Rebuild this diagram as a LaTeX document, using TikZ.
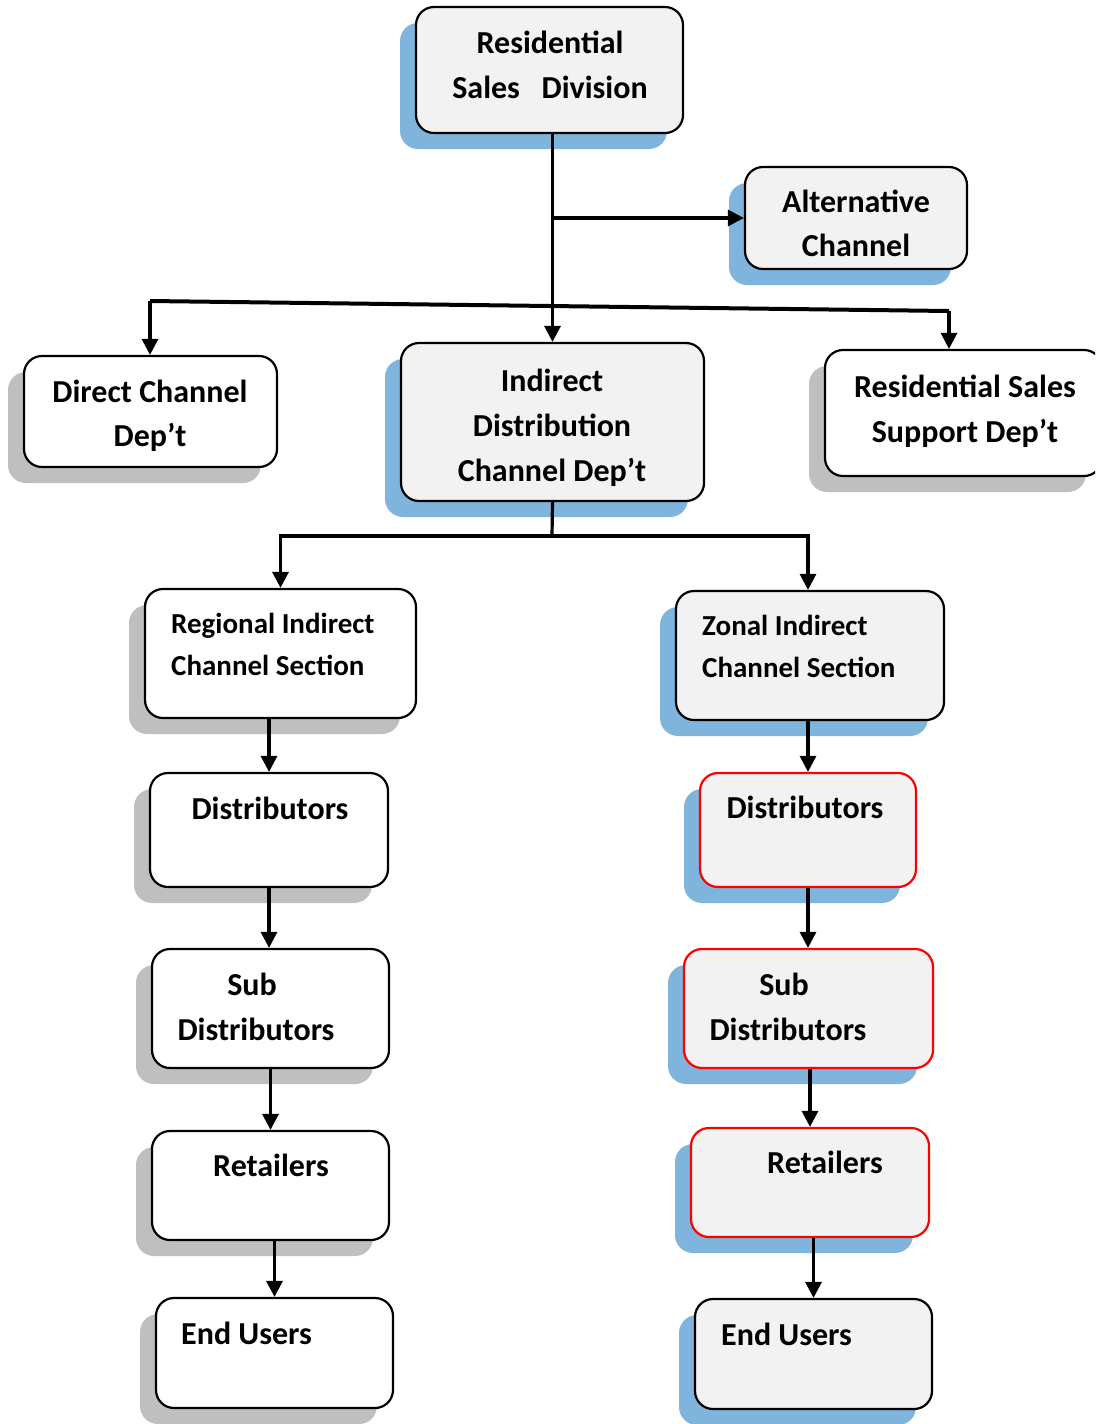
\documentclass[tikz,border=0pt]{standalone}
\usepackage{fontspec}
\setmainfont{Carlito}
\usetikzlibrary{arrows.meta,fit,calc}
\definecolor{shblue}{HTML}{7FB5DD}
\definecolor{shgray}{HTML}{BFBFBF}
\definecolor{boxgray}{HTML}{F2F2F2}
\definecolor{boxred}{HTML}{FF0000}
\newcommand\orgbox[8]{%
  \fill[#8, rounded corners=18pt] (#2-16,#3+16) rectangle (#4-16,#5+16);
  \node[fit={(#2,#3) (#4,#5)}, inner sep=0pt, draw=#7, fill=#6, line width=2.2pt, rounded corners=18pt] (#1) {};
}
\begin{document}
\begin{tikzpicture}[x=1pt,y=-1pt,
  lbl/.style={anchor=base, font=\fontsize{32}{45}\selectfont\bfseries, inner sep=0pt},
  lbll/.style={anchor=base west, font=\fontsize{29}{42}\selectfont\bfseries, inner sep=0pt},
  lblw/.style={anchor=base west, font=\fontsize{32}{45}\selectfont\bfseries, inner sep=0pt},
  conn/.style={line width=3.2pt},
  arr/.style={line width=3.2pt, -{Triangle[width=16pt,length=16pt]}}]
\clip (0,0) rectangle (1095,1424);
\fill[white] (0,0) rectangle (1095,1424);

% boxes
\orgbox{rsd}{416}{7}{683}{133}{boxgray}{black}{shblue}
\orgbox{alt}{745}{167}{967}{269}{boxgray}{black}{shblue}
\orgbox{dir}{24}{356}{277}{467}{white}{black}{shgray}
\orgbox{ind}{401}{343}{704}{501}{boxgray}{black}{shblue}
\orgbox{sup}{825}{350}{1102}{476}{white}{black}{shgray}
\orgbox{reg}{145}{589}{416}{718}{white}{black}{shgray}
\orgbox{zon}{676}{591}{944}{720}{boxgray}{black}{shblue}
\orgbox{dl}{150}{773}{388}{887}{white}{black}{shgray}
\orgbox{dr}{700}{773}{916}{887}{boxgray}{boxred}{shblue}
\orgbox{sl}{152}{949}{389}{1068}{white}{black}{shgray}
\orgbox{sr}{684}{949}{933}{1068}{boxgray}{boxred}{shblue}
\orgbox{rl}{152}{1131}{389}{1240}{white}{black}{shgray}
\orgbox{rr}{691}{1128}{929}{1237}{boxgray}{boxred}{shblue}
\orgbox{el}{156}{1298}{393}{1408}{white}{black}{shgray}
\orgbox{er}{695}{1299}{932}{1409}{boxgray}{black}{shblue}

% labels
\node[lbl] (t1) at (550,53) {Residential};
\node[lbl] (t2) at (550,98) {Sales\ \ \ Division};
\node[lbl] (t3) at (856,212) {Alternative};
\node[lbl] (t4) at (856,256) {Channel};
\node[lbl] (t5) at (150,402) {Direct Channel};
\node[lbl] (t6) at (150,446) {Dep’t};
\node[lbl] (t7) at (552,391) {Indirect};
\node[lbl] (t8) at (552,436) {Distribution};
\node[lbl] (t9) at (552,481) {Channel Dep’t};
\node[lbl] (t10) at (965,397) {Residential Sales};
\node[lbl] (t11) at (965,442) {Support Dep’t};
\node[lbll] (t12) at (171,633) {Regional Indirect};
\node[lbll] (t13) at (171,675) {Channel Section};
\node[lbll] (t14) at (702,635) {Zonal Indirect};
\node[lbll] (t15) at (702,677) {Channel Section};
\node[lbl] (t16) at (270,819) {Distributors};
\node[lbl] (t17) at (805,818) {Distributors};
\node[lbl] (t18) at (252,995) {Sub};
\node[lbl] (t19) at (256,1040) {Distributors};
\node[lbl] (t20) at (784,995) {Sub};
\node[lbl] (t21) at (788,1040) {Distributors};
\node[lbl] (t22) at (271,1176) {Retailers};
\node[lbl] (t23) at (825,1173) {Retailers};
\node[lblw] (t24) at (181,1344) {End Users};
\node[lblw] (t25) at (721,1345) {End Users};

% connectors
\coordinate (jl) at (150,301);
\coordinate (jr) at (949,311);
\coordinate (jb) at (552,536);
\draw[arr] (ind.north |- rsd.south) -- (ind.north);
\draw[arr] (ind.north |- alt.west) -- (alt.west);
\draw[line width=4pt] (jl) -- (jr);
\draw[arr] (jl) -- (jl |- dir.north);
\draw[arr] (jr) -- (jr |- sup.north);
\draw[conn] (ind.south) -- (jb);
\draw[arr] (jb) -| (reg.north);
\draw[arr] (jb) -| (dr.north |- zon.north);
\draw[arr] (reg.south -| dl.north) -- (dl.north);
\draw[arr] (dr.north |- zon.south) -- (dr.north);
\draw[arr] (dl.south) -- (dl.south |- sl.north);
\draw[arr] (dr.south) -- (dr.south |- sr.north);
\draw[arr] (sl.south) -- (sl.south |- rl.north);
\draw[arr] (rr.north |- sr.south) -- (rr.north);
\draw[arr] (el.north |- rl.south) -- (el.north);
\draw[arr] (er.north |- rr.south) -- (er.north);
\end{tikzpicture}
\end{document}
